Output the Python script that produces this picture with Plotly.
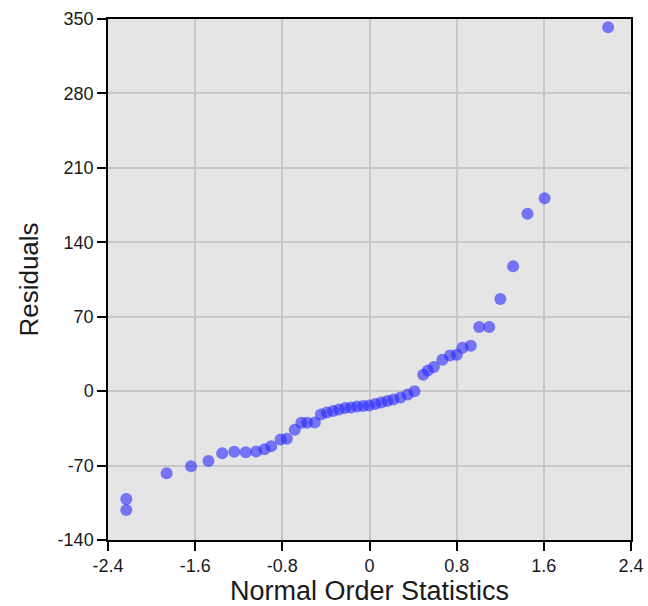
import plotly.graph_objects as go

# Normal order statistics (theoretical quantiles) and the matching sorted residuals
normal_scores = [
    -2.232, -2.232, -1.862, -1.638, -1.478, -1.352, -1.241, -1.136, -1.040,
    -0.964, -0.902, -0.816, -0.758, -0.686, -0.625, -0.573, -0.502,
    -0.446, -0.391, -0.335, -0.280, -0.224, -0.169, -0.114, -0.058, -0.003,
    0.053, 0.108, 0.164, 0.219, 0.284,
    0.351, 0.413, 0.493, 0.536, 0.591, 0.669, 0.739, 0.801, 0.854, 0.930,
    1.007, 1.099, 1.201, 1.318, 1.450, 1.607, 2.190,
]
residuals = [
    -101.4, -111.7, -77.3, -70.7, -65.6, -58.4, -57.1, -57.5, -56.8,
    -54.6, -51.8, -45.5, -44.8, -36.4, -29.8, -29.8, -29.5,
    -22.0, -20.1, -18.7, -17.2, -15.8, -15.4, -14.4, -13.9, -13.5,
    -12.1, -10.6, -9.2, -7.8, -5.9,
    -3.1, 0.0, 15.5, 19.5, 22.6, 29.6, 33.6, 34.3, 40.9, 42.8,
    60.3, 60.3, 86.7, 117.5, 166.8, 181.5, 342.2,
]

x_ticks = [-2.4, -1.6, -0.8, 0, 0.8, 1.6, 2.4]
x_tick_text = ["-2.4", "-1.6", "-0.8", "0", "0.8", "1.6", "2.4"]
y_ticks = [-140, -70, 0, 70, 140, 210, 280, 350]
y_tick_text = ["-140", "-70", "0", "70", "140", "210", "280", "350"]

FONT = "Liberation Sans, Arial, sans-serif"

fig = go.Figure(
    go.Scatter(
        x=normal_scores,
        y=residuals,
        mode="markers",
        marker=dict(size=12, color="rgba(40,40,255,0.6)", line=dict(width=0)),
        hoverinfo="x+y",
    )
)

axis_common = dict(
    showline=True,
    linecolor="black",
    linewidth=1.5,
    mirror=True,
    ticks="outside",
    ticklen=9,
    tickwidth=1.5,
    tickcolor="black",
    showgrid=True,
    gridcolor="#c8c8c8",
    gridwidth=2,
    zeroline=False,
    automargin=False,
    tickfont=dict(family=FONT, size=18, color="#1a1a1a"),
)

fig.update_xaxes(
    range=[-2.4, 2.4],
    tickvals=x_ticks,
    ticktext=x_tick_text,
    title_text="Normal Order Statistics",
    title_font=dict(family=FONT, size=27, color="#1a1a1a"),
    title_standoff=4,
    **axis_common,
)
fig.update_yaxes(
    range=[-140, 350],
    tickvals=y_ticks,
    ticktext=y_tick_text,
    title_text="Residuals",
    title_font=dict(family=FONT, size=26, color="#1a1a1a"),
    title_standoff=12,
    **axis_common,
)

fig.update_layout(
    width=648,
    height=606,
    margin=dict(l=108, r=17, t=19, b=66),
    plot_bgcolor="#e5e5e5",
    paper_bgcolor="white",
    showlegend=False,
)

fig.write_html("out.html")
